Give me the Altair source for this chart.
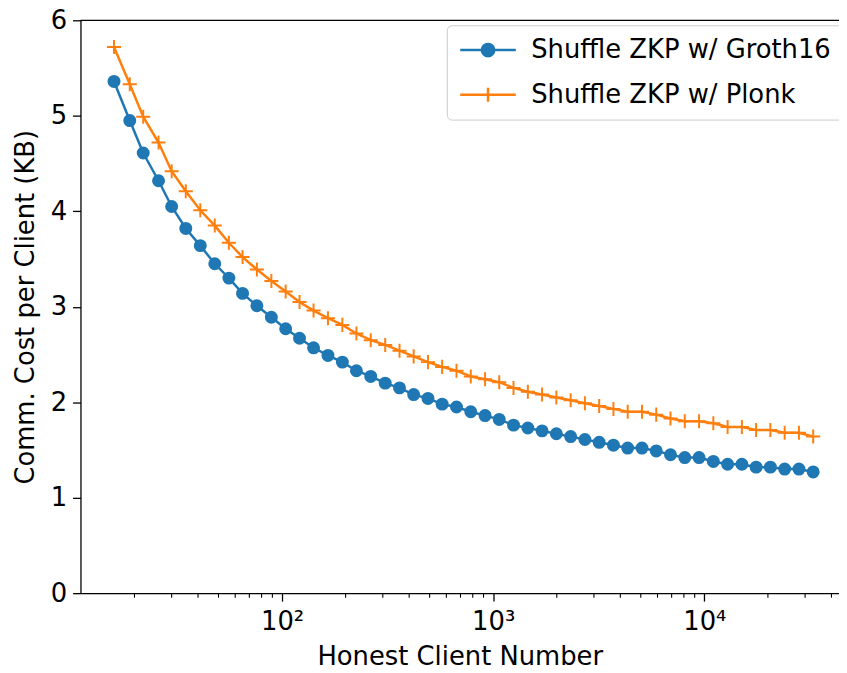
import altair as alt
import pandas as pd

# ---------------- data ----------------
client_numbers = [16, 19, 22, 26, 30, 35, 41, 48, 56, 65,
                  76, 89, 104, 121, 141, 165, 193, 225, 263, 308,
                  360, 420, 491, 573, 670, 783, 915, 1068, 1248, 1459,
                  1704, 1991, 2327, 2718, 3176, 3710, 4334, 5065, 5918, 6914,
                  8078, 9440, 11029, 12887, 15057, 17585, 20547, 24006, 28049, 32768]

groth16_kb = [5.36, 4.95, 4.61, 4.32, 4.05, 3.82, 3.64, 3.45, 3.30, 3.14,
              3.01, 2.89, 2.77, 2.67, 2.57, 2.49, 2.42, 2.33, 2.27, 2.20,
              2.15, 2.08, 2.04, 1.98, 1.95, 1.90, 1.86, 1.82, 1.76, 1.73,
              1.70, 1.67, 1.64, 1.61, 1.58, 1.55, 1.52, 1.52, 1.49, 1.45,
              1.42, 1.42, 1.38, 1.35, 1.35, 1.32, 1.32, 1.30, 1.30, 1.27]

plonk_kb = [5.72, 5.33, 4.99, 4.72, 4.42, 4.21, 4.01, 3.85, 3.67, 3.52,
            3.39, 3.27, 3.16, 3.05, 2.96, 2.88, 2.81, 2.72, 2.65, 2.60,
            2.54, 2.48, 2.42, 2.37, 2.33, 2.27, 2.24, 2.21, 2.15, 2.11,
            2.08, 2.05, 2.02, 1.99, 1.96, 1.93, 1.90, 1.90, 1.87, 1.83,
            1.80, 1.80, 1.78, 1.74, 1.74, 1.71, 1.71, 1.68, 1.68, 1.64]

series_names = ["Shuffle ZKP w/ Groth16", "Shuffle ZKP w/ Plonk"]
series_colors = ["#1f77b4", "#ff7f0e"]

y_ticks = [0, 1, 2, 3, 4, 5, 6]
x_ticks = [100, 1000, 10000]
x_tick_labels = ["10²", "10³", "10⁴"]
x_minor_ticks = [20, 30, 40, 50, 60, 70, 80, 90,
                 200, 300, 400, 500, 600, 700, 800, 900,
                 2000, 3000, 4000, 5000, 6000, 7000, 8000, 9000,
                 20000, 30000, 40000]

# ---------------- tables ----------------
rows = []
for n, v in zip(client_numbers, groth16_kb):
    rows.append({"n": n, "kb": v, "series": series_names[0]})
for n, v in zip(client_numbers, plonk_kb):
    rows.append({"n": n, "kb": v, "series": series_names[1]})
df = pd.DataFrame(rows)
minor_df = pd.DataFrame({"n": x_minor_ticks})

W, H = 764, 577
FONT = "DejaVu Sans"
FS = 26

label_expr = "''"
for v, lab in reversed(list(zip(x_ticks, x_tick_labels))):
    label_expr = f"datum.value == {v} ? '{lab}' : ({label_expr})"

xscale = alt.Scale(type="log", domain=[11.1, 43420], nice=False)
yscale = alt.Scale(domain=[0, 6], nice=False, zero=True)
xaxis = alt.Axis(values=x_ticks, labelExpr=label_expr, title="Honest Client Number",
                 grid=False, tickSize=8, labelPadding=8, titlePadding=9,
                 labelFlush=False, labelOverlap=False)
yaxis = alt.Axis(values=y_ticks, format="d", title="Comm. Cost per Client (KB)",
                 grid=False, tickSize=8, labelPadding=6, titlePadding=12)

X = alt.X("n:Q", scale=xscale, axis=xaxis)
Y = alt.Y("kb:Q", scale=yscale, axis=yaxis)
color_scale = alt.Scale(domain=series_names, range=series_colors)

# legend glyphs: a line with the marker in its middle (symbol size 400 -> 10px per unit)
circle_path = "M2.27,0A0.62,0.62,0,1,1,1.03,0A0.62,0.62,0,1,1,2.27,0Z"
legend_shapes = ["M-1.15,0H4.45" + circle_path, "M-1.15,0H4.45M1.65,-0.7V0.7"]

lines = alt.Chart(df).mark_line(strokeWidth=2.5).encode(
    x=X, y=Y, color=alt.Color("series:N", scale=color_scale, legend=None))

groth_pts = alt.Chart(df).transform_filter(
    alt.datum.series == series_names[0]).mark_circle(size=170, opacity=1).encode(
    x=X, y=Y, color=alt.Color("series:N", scale=color_scale, legend=None))

plonk_pts = alt.Chart(df).transform_filter(
    alt.datum.series == series_names[1]).mark_point(
    shape="M-1,0H1M0,-1V1", size=200, strokeWidth=2, filled=False, opacity=1).encode(
    x=X, y=Y, color=alt.Color("series:N", scale=color_scale, legend=None))

leg = alt.Legend(title=None, orient="none", legendX=369, legendY=5,
                 symbolSize=400, symbolStrokeWidth=2.5, symbolOpacity=1,
                 labelFont=FONT, labelFontSize=FS, labelOffset=47, labelLimit=0,
                 labelColor="black",
                 padding=12, rowPadding=19, strokeColor="#cccccc",
                 fillColor="white", cornerRadius=5)

legend_layer = alt.Chart(df).mark_point(opacity=0, filled=True).encode(
    x=X, y=Y,
    fill=alt.Fill("series:N", scale=alt.Scale(domain=series_names, range=series_colors), legend=leg),
    stroke=alt.Stroke("series:N", scale=alt.Scale(domain=series_names, range=series_colors), legend=leg),
    shape=alt.Shape("series:N", scale=alt.Scale(domain=series_names, range=legend_shapes), legend=leg),
)

minor = alt.Chart(minor_df).mark_rule(color="black", strokeWidth=1.1).encode(
    x=X, y=alt.value(H), y2=alt.value(H + 4.5))

top_spine = alt.Chart(pd.DataFrame({"k": [0]})).mark_rule(color="black", strokeWidth=1.3).encode(
    x=alt.value(0), x2=alt.value(W + 2), y=alt.value(0))

chart = alt.layer(lines, groth_pts, plonk_pts, legend_layer, minor, top_spine).resolve_scale(
    fill="independent", stroke="independent", shape="independent"
).properties(
    width=W, height=H, autosize="none", background="white",
    padding={"left": 73, "top": 10, "right": 0, "bottom": 78},
).configure_view(stroke=None).configure_axis(
    domainColor="black", domainWidth=1.3, tickColor="black", tickWidth=1.3,
    labelColor="black", titleColor="black", labelFont=FONT, titleFont=FONT,
    labelFontSize=FS, titleFontSize=FS, titleFontWeight="normal",
)

chart.save("out.html", embed_options={"renderer": "svg", "actions": False})
